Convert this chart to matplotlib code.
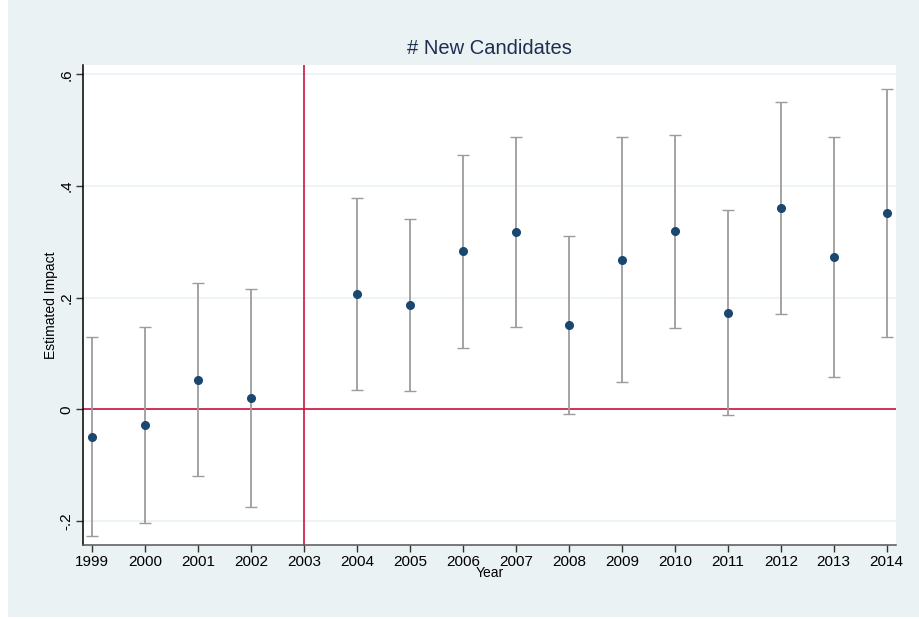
import numpy as np
import matplotlib.pyplot as plt
from matplotlib.patches import Rectangle

# event-study estimates of the number of new candidates, by year
years = [1999, 2000, 2001, 2002, 2004, 2005, 2006, 2007,
         2008, 2009, 2010, 2011, 2012, 2013, 2014]
estimate = [-0.049, -0.028, 0.053, 0.020, 0.206, 0.187, 0.283, 0.317,
            0.152, 0.268, 0.319, 0.173, 0.360, 0.273, 0.352]
ci_low = [-0.226, -0.204, -0.119, -0.175, 0.035, 0.033, 0.110, 0.147,
          -0.008, 0.049, 0.146, -0.009, 0.170, 0.059, 0.129]
ci_high = [0.129, 0.148, 0.226, 0.216, 0.378, 0.341, 0.456, 0.488,
           0.311, 0.487, 0.492, 0.357, 0.550, 0.488, 0.574]

xticks = list(range(1999, 2015))
yticks = [-0.2, 0, 0.2, 0.4, 0.6]
yticklabels = ["-.2", "0", ".2", ".4", ".6"]
event_year = 2003

plt.rcParams['font.family'] = ['Liberation Sans', 'DejaVu Sans']

bg = "#eaf2f3"
navy = "#1a476f"
red = "#cc1040"

fig = plt.figure(figsize=(9.2, 6.19), dpi=100)
fig.patch.set_facecolor("white")
fig.patches.append(Rectangle((8 / 920, 2 / 619), 1 - 8 / 920, 1 - 2 / 619,
                             transform=fig.transFigure, facecolor=bg,
                             edgecolor="none", zorder=-10))

ax = fig.add_axes([83 / 920, 1 - 545 / 619, 813 / 920, 480 / 619])
ax.set_facecolor("white")

ax.set_xlim(1998.824, 2014.176)
ax.set_ylim(-0.2425, 0.6165)

for yv in yticks:
    ax.axhline(yv, color=bg, lw=1.2, zorder=0)

ax.axvline(event_year, color=red, lw=1.2, zorder=1)
ax.axhline(0, color=red, lw=1.2, zorder=1)

est = np.array(estimate)
yerr = [est - np.array(ci_low), np.array(ci_high) - est]
ax.errorbar(years, est, yerr=yerr, fmt="none", ecolor="#9c9c9c",
            elinewidth=1.3, capsize=4, capthick=1.0, zorder=2)
ax.plot(years, est, "o", color=navy, markersize=5.5, zorder=3)

ax.set_xticks(xticks)
ax.set_xticklabels([str(y) for y in xticks], fontsize=11)
ax.set_yticks(yticks)
ax.set_yticklabels(yticklabels, fontsize=11, rotation=90, va="center")
ax.tick_params(axis="both", direction="out", length=5, width=1, color="#333333")
ax.tick_params(axis="x", pad=2)
ax.tick_params(axis="y", pad=2)

for side in ["top", "right"]:
    ax.spines[side].set_visible(False)
ax.spines["left"].set_color("black")
ax.spines["bottom"].set_color("#555555")
ax.spines["left"].set_linewidth(1.1)
ax.spines["bottom"].set_linewidth(1.1)

ax.set_xlabel("Year", fontsize=10, labelpad=-2)
ax.set_ylabel("Estimated Impact", fontsize=10, labelpad=1)
ax.set_title("# New Candidates", fontsize=14.5, color="#1e2e50", pad=8)

fig.savefig("out.png", dpi=100, facecolor=fig.get_facecolor())
